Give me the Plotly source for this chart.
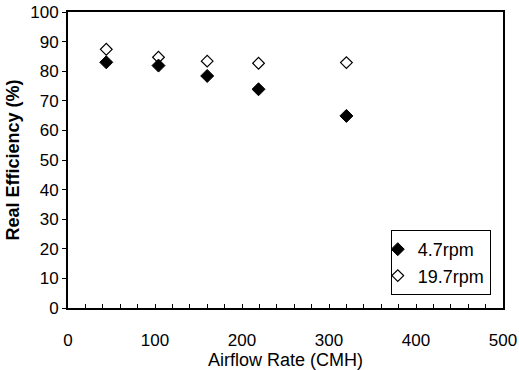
import plotly.graph_objects as go

airflow_a = [44, 104, 160, 219, 320]
eff_47 = [83.0, 81.9, 78.4, 73.9, 64.9]
airflow_b = [44, 104, 160, 219, 320]
eff_197 = [87.4, 84.7, 83.4, 82.7, 82.9]

fig = go.Figure()
fig.add_trace(go.Scatter(x=airflow_a, y=eff_47, mode="markers", name="4.7rpm",
                         marker=dict(symbol="diamond", size=10, color="black",
                                     line=dict(color="black", width=1))))
fig.add_trace(go.Scatter(x=airflow_b, y=eff_197, mode="markers", name="19.7rpm",
                         marker=dict(symbol="diamond-open", size=9, color="black",
                                     line=dict(color="black", width=1.2))))

font = dict(family="Liberation Sans, Arial, sans-serif", size=17, color="black")
fig.update_layout(
    width=519, height=370,
    margin=dict(l=68, r=16, t=12, b=62),
    paper_bgcolor="white", plot_bgcolor="white",
    font=font,
    showlegend=True,
    legend=dict(x=0.742, y=0.044, xanchor="left", yanchor="bottom",
                bgcolor="white", bordercolor="black", borderwidth=1,
                font=dict(size=18), itemwidth=30, tracegroupgap=0,
                indentation=-14),
    xaxis=dict(range=[0, 500], dtick=100, showgrid=False, zeroline=False,
               showline=True, linecolor="black", linewidth=2, mirror=True,
               ticks="inside", ticklen=4, tickcolor="black",
               ticklabelstandoff=16, automargin=False,
               minor=dict(dtick=20, ticks="inside", ticklen=4, tickcolor="black"),
               title=dict(text="Airflow Rate (CMH)", standoff=6, font=dict(size=18))),
    yaxis=dict(range=[0, 100], dtick=10, showgrid=False, zeroline=False,
               showline=True, linecolor="black", linewidth=2, mirror=True,
               ticks="outside", ticklen=4, tickcolor="black", automargin=False,
               title=dict(text="<b>Real Efficiency (%)</b>", standoff=6, font=dict(size=18))),
)
fig.write_html("out.html")
